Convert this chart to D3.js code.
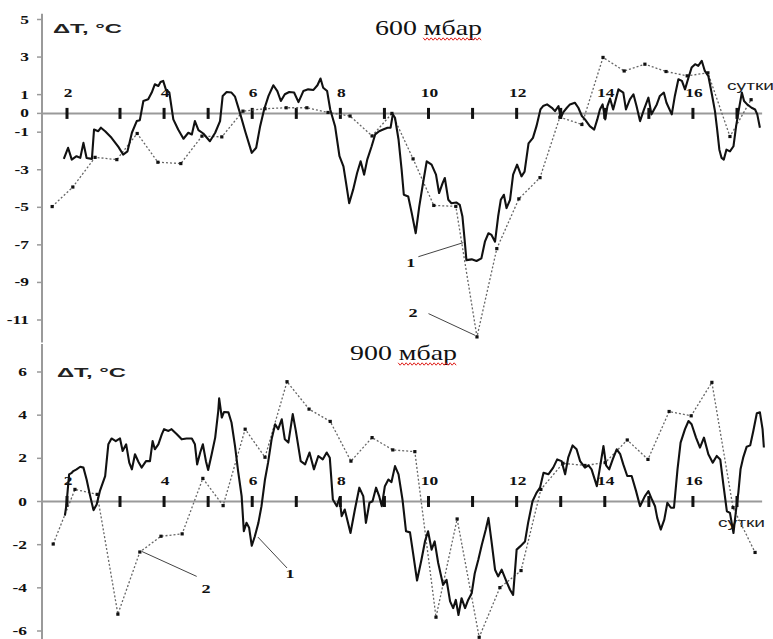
<!DOCTYPE html>
<html lang="ru">
<head>
<meta charset="UTF-8">
<title>ΔT, 600 / 900 мбар</title>
<script src="https://cdn.jsdelivr.net/npm/d3@7"></script>
<style>
  body { margin: 0; background: #fff; }
  svg { display: block; }
</style>
</head>
<body>
<div id="chart"></div>
<script>
// ---- data ----
const dayTicks = [2, 3, 4, 5, 6, 7, 8, 9, 10, 11, 12, 13, 14, 15, 16, 17];
const dayLabels = [2, 4, 6, 8, 10, 12, 14, 16];
const ticks600 = [5, 3, 1, 0, -1, -3, -5, -7, -9, -11];
const ticks900 = [6, 4, 2, 0, -2, -4, -6];

// 600 mbar, curve 1 (solid)
const solid600Day = [1.94,2.02,2.09,2.18,2.25,2.31,2.37,2.47,2.51,2.59,2.64,2.72,2.84,2.97,3.07,3.17,3.27,3.38,3.45,3.53,
  3.64,3.72,3.79,3.87,3.92,3.98,4.04,4.12,4.21,4.32,4.44,4.55,4.63,4.70,4.78,4.89,5.04,5.16,5.27,5.33,
  5.42,5.53,5.61,5.72,5.84,5.99,6.09,6.18,6.27,6.37,6.48,6.57,6.65,6.74,6.84,6.95,7.05,7.16,7.27,7.39,
  7.48,7.55,7.61,7.70,7.77,7.88,7.98,8.07,8.13,8.20,8.29,8.38,8.46,8.54,8.61,8.71,8.79,8.88,8.97,9.07,
  9.14,9.19,9.24,9.32,9.39,9.44,9.54,9.62,9.71,9.79,9.87,9.96,10.07,10.17,10.24,10.32,10.37,10.45,10.52,10.63,
  10.71,10.77,10.82,10.86,10.98,11.09,11.20,11.28,11.36,11.43,11.51,11.58,11.64,11.71,11.77,11.85,11.92,12.01,12.11,12.18,
  12.27,12.37,12.45,12.54,12.60,12.69,12.80,12.87,12.95,13.00,13.06,13.14,13.21,13.32,13.40,13.48,13.55,13.66,13.76,13.83,
  13.89,13.95,14.01,14.06,14.12,14.19,14.31,14.42,14.48,14.57,14.65,14.72,14.80,14.89,14.99,15.06,15.18,15.25,15.34,15.40,
  15.52,15.59,15.67,15.75,15.82,15.90,15.97,16.05,16.12,16.20,16.27,16.35,16.43,16.50,16.55,16.60,16.65,16.70,16.76,16.84,
  16.92,16.98,17.03,17.11,17.16,17.23,17.33,17.41,17.46,17.52];
const solid600T = [-2.42,-1.83,-2.46,-2.28,-2.37,-1.57,-2.37,-2.42,-0.86,-0.95,-0.76,-0.95,-1.30,-1.78,-2.19,-2.02,-1.03,-0.41,-0.36,0.66,
  0.75,1.11,1.55,1.46,1.67,1.73,1.28,1.11,-0.32,-0.86,-1.35,-1.03,-1.12,-0.41,-0.89,-1.07,-1.48,-1.03,-0.41,0.93,
  1.14,1.11,0.89,0.04,-0.95,-2.10,-1.83,-0.68,0.21,0.93,1.50,1.19,0.66,1.02,1.14,1.11,0.60,1.19,1.28,1.25,
  1.50,1.86,1.37,1.19,0.21,-0.68,-2.28,-2.82,-3.71,-4.78,-4.06,-3.17,-2.55,-3.26,-2.46,-1.75,-1.12,-0.95,-0.86,-0.76,
  -0.76,-0.05,-0.23,-1.39,-2.99,-4.33,-4.42,-5.31,-6.38,-4.96,-3.80,-2.55,-2.73,-3.26,-4.24,-3.71,-3.44,-4.60,-4.78,-4.74,
  -4.87,-5.49,-6.74,-7.81,-7.77,-7.86,-7.72,-6.83,-6.38,-6.47,-6.83,-5.49,-4.60,-4.33,-5.04,-4.60,-3.26,-2.73,-3.35,-3.10,
  -1.60,-1.30,-0.68,0.21,0.39,0.48,0.30,0.12,0.39,-0.23,0.07,0.30,0.48,0.57,0.30,-0.14,-0.32,-0.68,-0.86,-0.32,
  0.21,0.48,-0.32,0.39,0.79,0.21,1.28,1.11,0.21,0.75,1.02,0.39,-0.41,0.21,0.84,-0.05,0.48,0.93,1.11,0.57,
  -0.05,0.93,1.82,1.73,1.28,1.91,2.44,2.62,2.53,2.80,2.26,1.99,1.02,0.12,-0.86,-1.93,-2.37,-2.46,-1.93,-2.02,
  -1.75,-0.68,0.04,1.11,0.66,0.48,0.30,0.21,-0.05,-0.76];

// 600 mbar, curve 2 (dotted, markers)
const dots600Day = [1.72,2.11,2.53,2.94,3.39,3.86,4.38,4.86,5.31,5.79,6.29,6.77,7.24,7.72,8.22,8.72,9.17,9.65,10.12,10.62,
  11.10,11.55,12.05,12.53,12.98,13.48,13.96,14.44,14.91,15.39,15.87,16.34,16.84,17.32];
const dots600T = [-4.96,-3.92,-2.34,-2.46,-1.07,-2.60,-2.67,-1.21,-1.25,0.12,0.25,0.30,0.30,0.05,-0.14,-1.20,0.00,-2.42,-4.90,-4.95,
  -11.90,-7.20,-4.55,-3.42,-0.20,-0.59,2.98,2.26,2.62,2.23,2.00,2.16,-1.23,0.73];

// 900 mbar, curve 1 (solid)
const solid900Day = [1.96,1.99,2.02,2.04,2.09,2.12,2.18,2.25,2.31,2.37,2.43,2.50,2.56,2.62,2.72,2.78,2.84,2.92,3.00,3.06,
  3.14,3.21,3.27,3.34,3.42,3.49,3.59,3.68,3.74,3.79,3.87,3.95,4.00,4.10,4.17,4.29,4.40,4.51,4.63,4.70,
  4.75,4.82,4.88,4.95,5.00,5.08,5.16,5.23,5.25,5.31,5.36,5.46,5.53,5.61,5.68,5.76,5.81,5.87,5.93,5.99,
  6.06,6.14,6.21,6.29,6.36,6.44,6.52,6.59,6.67,6.74,6.82,6.92,6.99,7.10,7.20,7.30,7.40,7.50,7.60,7.69,
  7.76,7.83,7.92,7.98,8.03,8.10,8.23,8.33,8.43,8.52,8.58,8.66,8.73,8.81,8.88,8.94,9.01,9.09,9.16,9.24,
  9.32,9.41,9.49,9.58,9.65,9.74,9.84,9.92,9.99,10.07,10.14,10.22,10.33,10.41,10.49,10.56,10.62,10.68,10.75,10.83,
  10.90,10.98,11.05,11.13,11.21,11.30,11.36,11.43,11.51,11.58,11.66,11.77,11.85,11.92,12.00,12.08,12.19,12.26,12.36,12.45,
  12.53,12.61,12.72,12.83,12.92,13.02,13.10,13.17,13.27,13.36,13.44,13.55,13.63,13.70,13.82,13.89,13.97,14.03,14.10,14.18,
  14.27,14.35,14.42,14.51,14.61,14.71,14.80,14.91,14.99,15.07,15.14,15.19,15.27,15.35,15.42,15.50,15.57,15.65,15.72,15.82,
  15.90,15.97,16.07,16.16,16.25,16.35,16.45,16.54,16.62,16.69,16.77,16.84,16.92,16.98,17.03,17.08,17.14,17.22,17.30,17.37,
  17.45,17.52,17.58,17.61];
const solid900T = [-0.65,-0.14,0.71,1.26,1.33,1.41,1.49,1.61,1.57,1.02,0.33,-0.40,-0.14,0.48,1.18,2.65,2.92,2.80,2.92,2.34,
  2.65,1.80,1.49,2.19,1.83,1.57,1.87,1.87,2.80,2.42,2.65,3.12,3.35,3.27,3.35,3.12,2.88,2.92,2.92,2.65,
  1.72,2.27,2.65,1.87,1.46,2.19,2.96,4.20,4.78,3.89,4.15,4.13,3.66,2.57,1.41,0.25,-1.38,-0.99,-1.22,-2.05,
  -1.61,-0.99,-0.22,1.02,1.80,2.88,3.58,3.35,3.81,2.88,2.73,4.05,3.27,1.87,1.72,2.27,1.49,2.11,1.95,2.27,
  2.03,0.09,-0.22,0.17,-0.68,-0.37,-1.46,-0.37,0.64,0.25,-0.99,-0.06,0.01,0.64,0.25,-0.22,0.71,1.02,0.90,1.64,
  1.26,0.09,-1.38,-1.43,-2.39,-3.66,-2.70,-1.85,-1.38,-2.23,-1.85,-2.85,-3.86,-3.63,-4.63,-4.94,-4.56,-5.26,-4.48,-4.94,
  -4.56,-4.25,-3.32,-2.70,-2.00,-1.30,-0.76,-1.85,-3.16,-3.47,-3.16,-3.71,-4.09,-4.33,-2.23,-2.08,-1.85,-0.99,0.01,0.40,
  0.64,1.33,1.26,1.57,1.95,1.87,1.26,2.03,2.60,2.42,1.87,1.57,1.67,1.49,0.71,1.57,2.57,1.67,1.49,1.95,
  2.42,2.19,1.72,1.18,1.18,0.48,-0.22,0.25,0.48,0.09,-0.22,-0.76,-1.30,-0.84,-0.06,-0.29,-0.29,1.49,2.73,3.35,
  3.73,3.58,2.96,2.50,2.96,2.19,1.80,2.11,1.95,0.79,-0.45,-0.53,-1.46,-0.37,0.40,1.49,2.03,2.54,2.60,3.27,
  4.09,4.13,3.35,2.50];

// 900 mbar, curve 2 (dotted, markers)
const dots900Day = [1.74,2.15,2.57,2.96,3.45,3.93,4.41,4.88,5.34,5.84,6.29,6.79,7.29,7.77,8.24,8.72,9.19,9.69,10.17,10.65,
  11.15,11.62,12.10,12.55,13.05,13.55,14.01,14.51,14.98,15.46,15.96,16.43,16.91,17.41];
const dots900T = [-1.97,0.56,0.33,-5.22,-2.34,-1.61,-1.50,1.07,-0.19,3.35,2.05,5.55,4.28,3.71,1.87,2.96,2.39,2.31,-5.36,-0.81,
  -6.29,-3.99,-3.20,0.56,1.77,1.67,1.80,2.85,1.95,4.17,3.97,5.52,-0.28,-2.36];

// curve numbers with leader lines: label point, leader start, leader end (day, °C)
const callouts600 = [
  { text: '1', at: [9.60, -8.18], from: [9.77, -7.63], to: [10.79, -6.88] },
  { text: '2', at: [9.65, -10.86], from: [10.00, -10.66], to: [11.06, -11.82] }
];
const callouts900 = [
  { text: '1', at: [6.86, -3.53], from: [6.79, -3.08], to: [6.13, -1.65] },
  { text: '2', at: [4.95, -4.23], from: [4.74, -3.47], to: [3.49, -2.31] }
];

// ---- drawing ----
const width = 773;
const height = 639;
const axisX = 42;
const serif = "'Liberation Serif', 'Times New Roman', serif";
const sans = "'Liberation Sans', Arial, sans-serif";

const svg = d3.select('#chart')
  .append('svg')
  .attr('width', width)
  .attr('height', height);

// the day axis is a little wider between 2 and 3 than elsewhere
const x = d3.scaleLinear()
  .domain([2, 3, 17])
  .range([67, 120, 737]);

function panel(opt) {
  const y = d3.scaleLinear().domain(opt.yDomain).range(opt.yRange);
  const g = svg.append('g');

  // vertical axis
  g.append('line')
    .attr('x1', axisX).attr('x2', axisX)
    .attr('y1', y(opt.axisTop)).attr('y2', y(opt.axisBottom))
    .attr('stroke', '#9a9a9a')
    .attr('stroke-width', 2);

  g.selectAll('.ytick')
    .data(opt.ticks)
    .join('line')
    .attr('x1', axisX - 5).attr('x2', axisX)
    .attr('y1', d => y(d)).attr('y2', d => y(d))
    .attr('stroke', '#9a9a9a')
    .attr('stroke-width', 1.5);

  g.selectAll('.ylab')
    .data(opt.ticks)
    .join('text')
    .attr('transform', d => 'translate(' + opt.labelRight + ',' + (y(d) + 4) + ') scale(1.45,1)')
    .attr('text-anchor', 'end')
    .style('font-family', serif)
    .style('font-weight', 'bold')
    .style('font-size', '12px')
    .attr('fill', '#111')
    .text(d => String(d));

  // zero line with day marks
  g.append('line')
    .attr('x1', axisX).attr('x2', x(17.57))
    .attr('y1', y(0)).attr('y2', y(0))
    .attr('stroke', '#9a9a9a')
    .attr('stroke-width', 2);

  g.selectAll('.xtick')
    .data(dayTicks)
    .join('rect')
    .attr('x', d => x(d) - 1.5)
    .attr('y', y(0) - 5.5)
    .attr('width', 3)
    .attr('height', 11)
    .attr('fill', '#111');

  g.selectAll('.xlab')
    .data(dayLabels)
    .join('text')
    .attr('transform', d => 'translate(' + (x(d) + 1) + ',' + (y(0) - opt.xLabelLift) + ') scale(1.45,1)')
    .attr('text-anchor', 'middle')
    .style('font-family', serif)
    .style('font-weight', 'bold')
    .style('font-size', '12px')
    .attr('fill', '#111')
    .text(d => d);

  // axis captions
  g.append('text')
    .attr('x', opt.unitPos[0]).attr('y', opt.unitPos[1])
    .attr('textLength', 69)
    .attr('lengthAdjust', 'spacingAndGlyphs')
    .style('font-family', sans)
    .style('font-weight', 'bold')
    .style('font-size', '13px')
    .attr('fill', '#222')
    .text('ΔT, °C');

  g.append('text')
    .attr('x', opt.daysPos[0]).attr('y', opt.daysPos[1])
    .attr('textLength', 47)
    .attr('lengthAdjust', 'spacingAndGlyphs')
    .style('font-family', sans)
    .style('font-size', '13px')
    .attr('fill', '#222')
    .text('сутки');

  // title with the red spell-check wave under the unit
  const title = g.append('text')
    .attr('x', opt.titlePos[0]).attr('y', opt.titlePos[1])
    .attr('textLength', 107)
    .attr('lengthAdjust', 'spacingAndGlyphs')
    .style('font-family', serif)
    .style('font-size', '21px')
    .attr('fill', '#111')
    .text(opt.title);
  const box = title.node().getBBox();
  const wx0 = box.x + box.width * 0.45;
  const wx1 = box.x + box.width;
  const wy = opt.titlePos[1] + 4;
  const wave = d3.range(wx0, wx1, 2).map((px, i) => [px, wy + (i % 2 ? 1.2 : -1.2)]);
  g.append('path')
    .attr('d', d3.line()(wave))
    .attr('fill', 'none')
    .attr('stroke', '#e0201b')
    .attr('stroke-width', 1);

  // curve 2: dotted with small square markers
  const dots = d3.zip(opt.dotsDay, opt.dotsT);
  g.append('path')
    .datum(dots)
    .attr('d', d3.line().x(d => x(d[0])).y(d => y(d[1])))
    .attr('fill', 'none')
    .attr('stroke', '#666')
    .attr('stroke-width', 1.3)
    .attr('stroke-dasharray', '2,2');
  g.selectAll('.mark')
    .data(dots)
    .join('rect')
    .attr('x', d => x(d[0]) - 1.6)
    .attr('y', d => y(d[1]) - 1.6)
    .attr('width', 3.2)
    .attr('height', 3.2)
    .attr('fill', '#111');

  // curve 1: solid
  g.append('path')
    .datum(d3.zip(opt.solidDay, opt.solidT))
    .attr('d', d3.line().x(d => x(d[0])).y(d => y(d[1])))
    .attr('fill', 'none')
    .attr('stroke', '#111')
    .attr('stroke-width', 2.1)
    .attr('stroke-linejoin', 'round');

  // curve numbers
  opt.callouts.forEach(c => {
    g.append('line')
      .attr('x1', x(c.from[0])).attr('y1', y(c.from[1]))
      .attr('x2', x(c.to[0])).attr('y2', y(c.to[1]))
      .attr('stroke', '#444')
      .attr('stroke-width', 1);
    g.append('text')
      .attr('transform', 'translate(' + x(c.at[0]) + ',' + y(c.at[1]) + ') scale(1.4,1)')
      .attr('text-anchor', 'middle')
      .style('font-family', serif)
      .style('font-weight', 'bold')
      .style('font-size', '13px')
      .attr('fill', '#111')
      .text(c.text);
  });
}

panel({
  yDomain: [5, -11], yRange: [19.5, 320],
  axisTop: 5.3, axisBottom: -12.2,
  ticks: ticks600, labelRight: 29, xLabelLift: 16,
  unitPos: [53, 33], daysPos: [727, 90], titlePos: [375, 35],
  title: '600 мбар',
  solidDay: solid600Day, solidT: solid600T,
  dotsDay: dots600Day, dotsT: dots600T,
  callouts: callouts600
});

panel({
  yDomain: [6, -6], yRange: [372, 631],
  axisTop: 7.3, axisBottom: -6.5,
  ticks: ticks900, labelRight: 27, xLabelLift: 17,
  unitPos: [57, 377], daysPos: [718, 527], titlePos: [350, 360],
  title: '900 мбар',
  solidDay: solid900Day, solidT: solid900T,
  dotsDay: dots900Day, dotsT: dots900T,
  callouts: callouts900
});
</script>
</body>
</html>
